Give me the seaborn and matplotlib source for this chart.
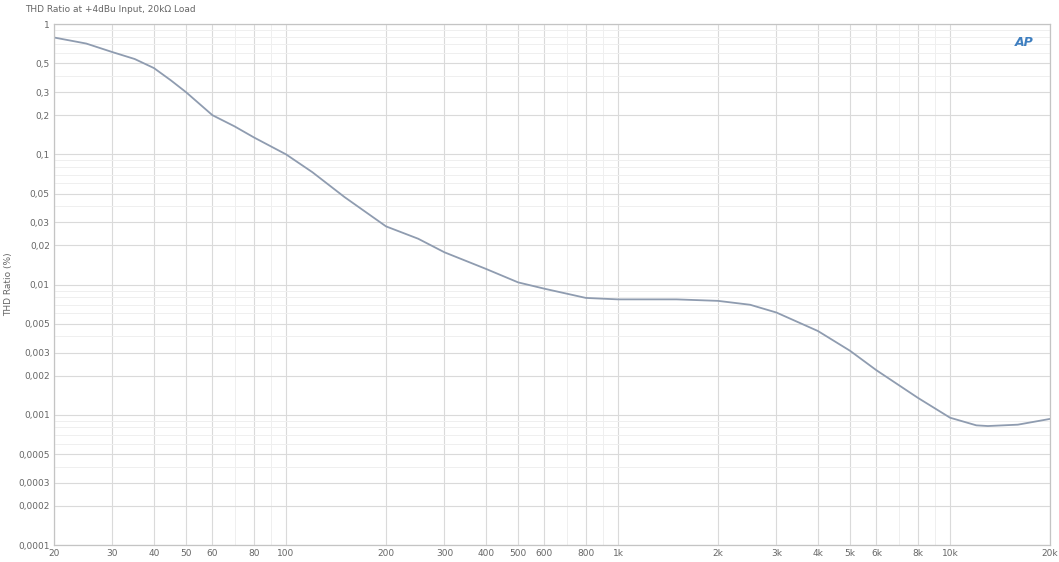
import matplotlib
matplotlib.use("Agg")
import matplotlib.pyplot as plt
from matplotlib.ticker import FixedLocator, FixedFormatter, NullFormatter
import numpy as np
import pandas as pd
import seaborn as sns

# THD ratio readings (%)
freq_hz = [20, 25, 30, 35, 40, 45, 50, 60, 70, 80, 100, 120, 150, 200, 250,
           300, 400, 500, 600, 800, 1000, 1500, 2000, 2500, 3000, 4000,
           5000, 6000, 8000, 10000, 12000, 13000, 16000, 20000]
thd_pct = [0.79, 0.71, 0.61, 0.54, 0.46, 0.37, 0.30, 0.20, 0.164, 0.135,
           0.10, 0.073, 0.047, 0.028, 0.0225, 0.0177, 0.0132, 0.0104,
           0.0093, 0.0079, 0.0077, 0.0077, 0.0075, 0.0070, 0.0061, 0.0044,
           0.0031, 0.0022, 0.00135, 0.00095, 0.00083, 0.00082, 0.00084,
           0.00093]

x_ticks = [20, 30, 40, 50, 60, 80, 100, 200, 300, 400, 500, 600, 800,
           1000, 2000, 3000, 4000, 5000, 6000, 8000, 10000, 20000]
x_labels = ["20", "30", "40", "50", "60", "80", "100", "200", "300", "400",
            "500", "600", "800", "1k", "2k", "3k", "4k", "5k", "6k", "8k",
            "10k", "20k"]
y_ticks = [1, 0.5, 0.3, 0.2, 0.1, 0.05, 0.03, 0.02, 0.01, 0.005, 0.003,
           0.002, 0.001, 0.0005, 0.0003, 0.0002, 0.0001]
y_labels = ["1", "0,5", "0,3", "0,2", "0,1", "0,05", "0,03", "0,02", "0,01",
            "0,005", "0,003", "0,002", "0,001", "0,0005", "0,0003", "0,0002",
            "0,0001"]

df = pd.DataFrame({"Frequency": freq_hz, "THD": thd_pct})

sns.set_style("white")
plt.rcParams["font.family"] = ["DejaVu Sans"]

fig = plt.figure(figsize=(10.59, 5.62), dpi=100)
ax = fig.add_axes([0.051, 0.0302, 0.9405, 0.9268])

sns.lineplot(data=df, x="Frequency", y="THD", ax=ax, color="#8f9cb0",
             linewidth=1.3)

ax.set_xscale("log")
ax.set_yscale("log")
ax.set_xlim(20, 20000)
ax.set_ylim(0.0001, 1)

# major ticks at the labelled values, minor ones at the rest of 1..9
ax.xaxis.set_major_locator(FixedLocator(x_ticks))
ax.xaxis.set_major_formatter(FixedFormatter(x_labels))
x_minor = [m * 10 ** e for e in range(1, 5) for m in range(1, 10)
           if 20 <= m * 10 ** e <= 20000 and m * 10 ** e not in x_ticks]
ax.xaxis.set_minor_locator(FixedLocator(x_minor))
ax.xaxis.set_minor_formatter(NullFormatter())

ax.yaxis.set_major_locator(FixedLocator(y_ticks))
ax.yaxis.set_major_formatter(FixedFormatter(y_labels))
y_minor = [m * 10.0 ** e for e in range(-4, 0) for m in range(1, 10)
           if not any(np.isclose(m * 10.0 ** e, t) for t in y_ticks)]
ax.yaxis.set_minor_locator(FixedLocator(y_minor))
ax.yaxis.set_minor_formatter(NullFormatter())

ax.grid(True, which="major", color="#dadada", linewidth=0.8)
ax.grid(True, which="minor", color="#efefef", linewidth=0.7)
ax.tick_params(which="both", length=0, labelsize=6.5, colors="#666666",
               pad=3)
for s in ax.spines.values():
    s.set_color("#c4c4c4")
    s.set_linewidth(0.9)

ax.set_xlabel("")
ax.set_ylabel("THD Ratio (%)", fontsize=6.5, color="#666666", labelpad=4)
fig.text(0.024, 0.983, "THD Ratio at +4dBu Input, 20k\u03a9 Load",
         fontsize=6.5, color="#666666", va="center", ha="left")
ax.text(0.983, 0.965, "AP", transform=ax.transAxes, fontsize=9,
        color="#3f7fc0", style="italic", fontweight="bold",
        ha="right", va="center")

fig.savefig("out.png", dpi=100)
